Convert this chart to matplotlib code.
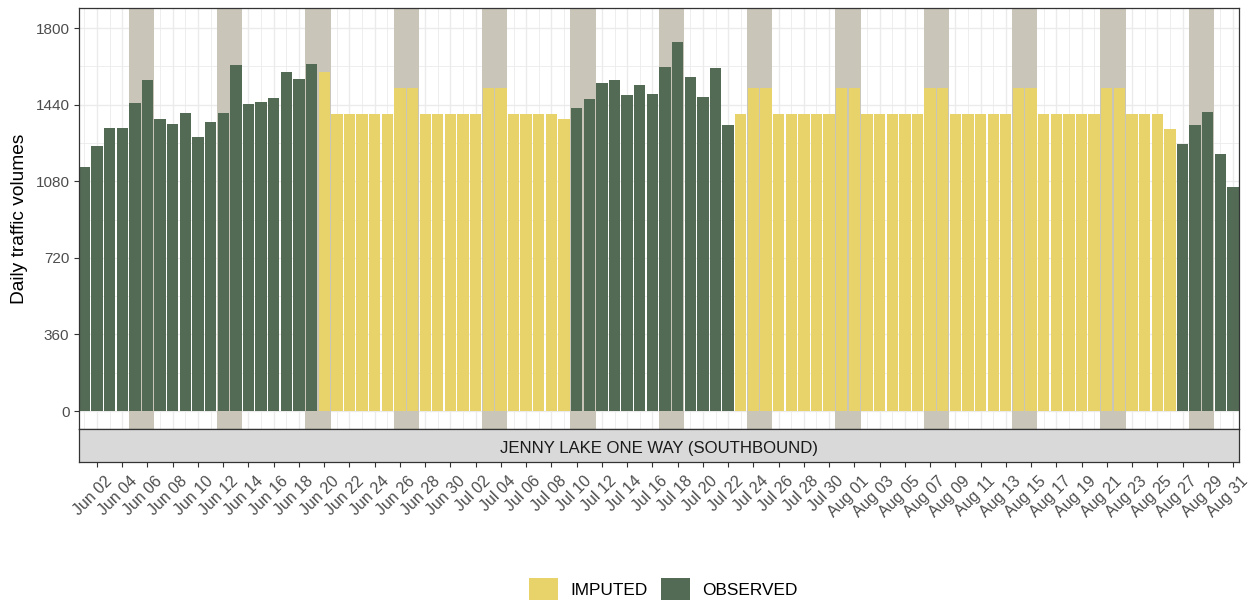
import numpy as np
import pandas as pd
import matplotlib
matplotlib.use("Agg")
import matplotlib.pyplot as plt
import matplotlib.dates as mdates
import matplotlib.transforms as mtransforms
from matplotlib.patches import Patch

plt.rcParams['font.family'] = ['Liberation Sans', 'DejaVu Sans']

# ---------------- data ----------------
dates = pd.date_range("2021-06-01", "2021-08-31", freq="D")

volumes = [
    1148, 1247, 1332, 1332, 1447, 1556, 1372, 1350, 1399, 1288,   # Jun 01-10
    1357, 1402, 1625, 1444, 1454, 1470, 1593, 1560, 1632, 1595,   # Jun 11-20
    1397, 1397, 1397, 1397, 1397, 1519, 1519, 1397, 1397, 1397,   # Jun 21-30
    1397, 1397, 1519, 1519, 1397, 1397, 1397, 1397, 1371, 1425,   # Jul 01-10
    1468, 1541, 1556, 1484, 1532, 1490, 1618, 1734, 1570, 1474,   # Jul 11-20
    1612, 1343, 1397, 1519, 1519, 1397, 1397, 1397, 1397, 1397,   # Jul 21-30
    1519, 1519, 1397, 1397, 1397, 1397, 1397, 1519, 1519, 1397,   # Jul 31-Aug 09
    1397, 1397, 1397, 1397, 1519, 1519, 1397, 1397, 1397, 1397,   # Aug 10-19
    1397, 1519, 1519, 1397, 1397, 1397, 1324, 1256, 1343, 1407,   # Aug 20-29
    1208, 1051,                                                   # Aug 30-31
]

status = (
    ["OBSERVED"] * 19 +      # Jun 01 - Jun 19
    ["IMPUTED"] * 20 +       # Jun 20 - Jul 09
    ["OBSERVED"] * 13 +      # Jul 10 - Jul 22
    ["IMPUTED"] * 35 +       # Jul 23 - Aug 26
    ["OBSERVED"] * 5         # Aug 27 - Aug 31
)

categories = ["IMPUTED", "OBSERVED"]
colors = {"IMPUTED": "#E8D36A", "OBSERVED": "#536A55"}
strip_label = "JENNY LAKE ONE WAY (SOUTHBOUND)"
y_ticks = [0, 360, 720, 1080, 1440, 1800]

# ---------------- figure ----------------
W, H = 1250, 603
fig = plt.figure(figsize=(W / 100, H / 100), dpi=100)

px_l, px_r, px_t, px_b = 78.7, 1238.7, 8.3, 429.3
strip_b = 461.7

ax = fig.add_axes([px_l / W, 1 - px_b / H, (px_r - px_l) / W, (px_b - px_t) / H])
sax = fig.add_axes([px_l / W, 1 - strip_b / H, (px_r - px_l) / W, (strip_b - px_b) / H], sharex=ax)

x = mdates.date2num(dates)
bw = 0.9

# weekend bands
for d, xv in zip(dates, x):
    if d.dayofweek == 5:
        ax.axvspan(xv - 0.5, xv + 1.5, color="#C9C5B8", zorder=1, lw=0)

bar_colors = [colors[s] for s in status]
ax.bar(x, volumes, width=bw, color=bar_colors, zorder=2, linewidth=0)

ax.set_xlim(x[0] - bw / 2, x[-1] + bw / 2)
ax.set_ylim(-86, 1893)

# grid
ax.set_yticks(y_ticks)
ax.set_yticks([180, 540, 900, 1260, 1620], minor=True)
major_x = x[1::2]
minor_x = x[0::2]
ax.set_xticks(major_x)
ax.set_xticks(minor_x, minor=True)
ax.grid(True, which="major", color="#EBEBEB", lw=1.0, zorder=0)
ax.grid(True, which="minor", color="#EBEBEB", lw=0.6, zorder=0)
ax.set_axisbelow(True)
ax.tick_params(axis="x", which="both", bottom=False, labelbottom=False)
ax.tick_params(axis="y", which="minor", left=False)
ax.tick_params(axis="y", which="major", length=3.3, width=0.8, color="#333333",
               labelsize=11, labelcolor="#4D4D4D", pad=3.4)
ax.set_yticklabels([str(v) for v in y_ticks])
for sp in ax.spines.values():
    sp.set_color("#333333")
    sp.set_linewidth(0.9)

ax.set_ylabel("Daily traffic volumes", fontsize=13.8, color="black")
ax.yaxis.set_label_coords(-0.0434, 0.5)

# strip
sax.set_facecolor("#D9D9D9")
sax.set_yticks([])
for sp in sax.spines.values():
    sp.set_color("#333333")
    sp.set_linewidth(0.9)
sax.text(0.5, 0.26, strip_label, transform=sax.transAxes, ha="center", va="baseline",
         fontsize=12.1, color="#1A1A1A")
sax.tick_params(axis="x", which="major", length=3.5, width=0.8, color="#333333",
                labelsize=11.5, labelcolor="#4D4D4D", pad=1.5)
sax.tick_params(axis="x", which="minor", bottom=False)
sax.set_xticks(major_x)
labels = sax.set_xticklabels([d.strftime("%b %d") for d in dates[1::2]], rotation=45,
                             ha="right", va="top", rotation_mode="anchor")
offset = mtransforms.ScaledTranslation(7 / 100, -5 / 100, fig.dpi_scale_trans)
for lab in labels:
    lab.set_transform(lab.get_transform() + offset)

# legend
handles = [Patch(facecolor=colors[c], edgecolor="none", label=c) for c in categories]
fig.legend(handles=handles, loc="center", bbox_to_anchor=(663.5 / W, (H - 589) / H),
           ncol=2, frameon=False, fontsize=12.4, handlelength=1.68, handleheight=1.62,
           handletextpad=0.7, columnspacing=0.78, borderpad=0, borderaxespad=0)

fig.savefig("out.png", dpi=100)
